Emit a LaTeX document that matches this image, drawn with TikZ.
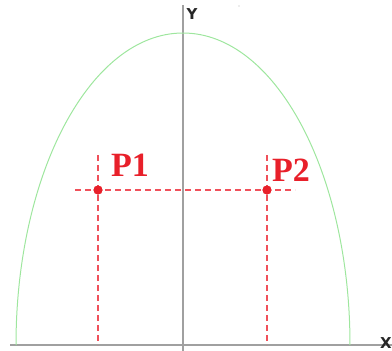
\documentclass[tikz,border=0pt]{standalone}
\usepackage{fontspec}
\setmainfont{Liberation Serif}
\newfontfamily\axisfont{DejaVu Sans}
\definecolor{axisgray}{HTML}{A0A0A0}
\definecolor{curvegreen}{HTML}{9EE69E}
\definecolor{dashred}{HTML}{F0505A}
\definecolor{labelred}{HTML}{E8202A}
\tikzset{
  axis/.style={draw=axisgray, line width=1.6pt},
  curve/.style={draw=curvegreen, line width=1pt},
  guide/.style={draw=dashred, line width=1.4pt, dash pattern=on 6pt off 4pt},
  pt/.style={circle, fill=labelred, inner sep=0pt, minimum size=9pt},
  plabel/.style={text=labelred, font=\fontsize{34}{34}\selectfont\bfseries, inner sep=0pt},
  axlabel/.style={text=black!85, font=\axisfont\fontsize{15}{15}\selectfont\bfseries, inner sep=0pt}
}
\begin{document}
\begin{tikzpicture}[x=1pt,y=-1pt]
\useasboundingbox (0,0) rectangle (392,351);
% axes
\coordinate (xs) at (10,345);
\coordinate (xe) at (392,345);
\coordinate (ys) at (183,5);
\coordinate (ye) at (183,351);
\draw[axis] (xs) -- (xe);
\draw[axis] (ys) -- (ye);
% curve
\draw[curve] (16,345) arc[start angle=180, end angle=0, x radius=167, y radius=-312];
% points
\node[pt] (p1) at (98,190) {};
\node[pt] (p2) at (267,190) {};
\coordinate (h1) at (75,190);
\coordinate (h2) at (295,190);
\coordinate (v1t) at (98,155);
\coordinate (v1b) at (98,345);
\coordinate (v2t) at (267,155);
\coordinate (v2b) at (267,345);
\draw[guide] (h1) -- (h2);
\draw[guide] (v1t) -- (v1b);
\draw[guide] (v2t) -- (v2b);
\node[pt] at (p1) {};
\node[pt] at (p2) {};
% labels
\node[plabel] (l1) at (130,165) {P1};
\node[plabel] (l2) at (291,170) {P2};
\node[axlabel] (ly) at (192,14) {Y};
\node[axlabel] (lx) at (386,343) {X};
\fill[gray!60] (239,6) circle (0.7pt);
\end{tikzpicture}
\end{document}
